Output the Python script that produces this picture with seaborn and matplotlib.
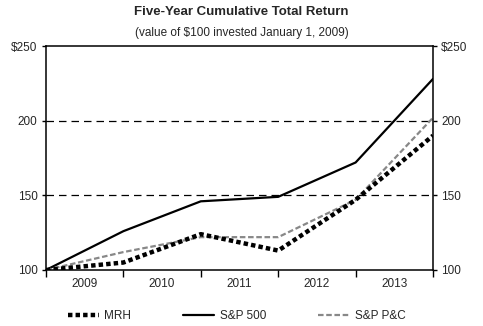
import matplotlib
matplotlib.use("Agg")
import matplotlib.pyplot as plt
import seaborn as sns
import pandas as pd

# Data
periods = [0, 1, 2, 3, 4, 5]
years = ["2009", "2010", "2011", "2012", "2013"]
mrh = [100, 105, 124, 113, 147, 190]
sp500 = [100, 126, 146, 149, 172, 228]
sppc = [100, 112, 122, 122, 147, 202]
ytick_vals = [100, 150, 200, 250]
ytick_labels = ["100", "150", "200", "$250"]

sns.set_theme(style="white")
plt.rcParams['font.family'] = ['Liberation Sans', 'DejaVu Sans']

fig = plt.figure(figsize=(4.83, 3.26), dpi=100)
ax = fig.add_axes([0.0952, 0.1718, 0.8013, 0.687])

df = pd.DataFrame({"x": periods, "MRH": mrh, "S&P 500": sp500, "S&P P&C": sppc})

sns.lineplot(data=df, x="x", y="S&P 500", ax=ax, color="black", lw=1.6, label="S&P 500")
sns.lineplot(data=df, x="x", y="S&P P&C", ax=ax, color="#888888", lw=1.6,
             dashes=False, label="S&P P&C")
ax.lines[-1].set_dashes([2.5, 1.2])
sns.lineplot(data=df, x="x", y="MRH", ax=ax, color="black", lw=3.2, label="MRH")
ax.lines[-1].set_dashes([1.0, 0.7])

for v in [150, 200]:
    ax.axhline(v, color="black", lw=0.9, dashes=[6, 4], zorder=0)

ax.set_xlim(0, 5)
ax.set_ylim(100, 250)
ax.set_xticks(periods)
ax.set_xticklabels([])
ax.set_xticks([p + 0.5 for p in periods[:-1]], minor=True)
ax.set_xticklabels(years, minor=True)
ax.tick_params(axis="x", which="major", direction="out", length=5, width=1, color="black", bottom=True)
ax.tick_params(axis="x", which="minor", length=0, labelsize=8.5, pad=6)
ax.set_yticks(ytick_vals)
ax.set_yticklabels(ytick_labels)
ax.tick_params(axis="y", direction="out", length=3, width=1, color="black", left=True,
               right=True, labelright=True, labelsize=8.5, pad=3)
ax.set_xlabel("")
ax.set_ylabel("")
for s in ax.spines.values():
    s.set_color("black")
    s.set_linewidth(1.1)

handles, labels = ax.get_legend_handles_labels()
order = [labels.index(l) for l in ["MRH", "S&P 500", "S&P P&C"]]
ax.legend([handles[i] for i in order], [labels[i] for i in order], loc="center",
          bbox_to_anchor=(0.49, 0.03), bbox_transform=fig.transFigure, ncol=3,
          frameon=False, fontsize=8.5, handlelength=2.6, columnspacing=4.4, handletextpad=0.5)

fig.text(0.5, 0.963, "Five-Year Cumulative Total Return", ha="center", va="center",
         fontsize=9.5, fontweight="bold")
fig.text(0.5, 0.9, "(value of $100 invested January 1, 2009)", ha="center", va="center",
         fontsize=8.5)

fig.savefig("out.png", dpi=100)
